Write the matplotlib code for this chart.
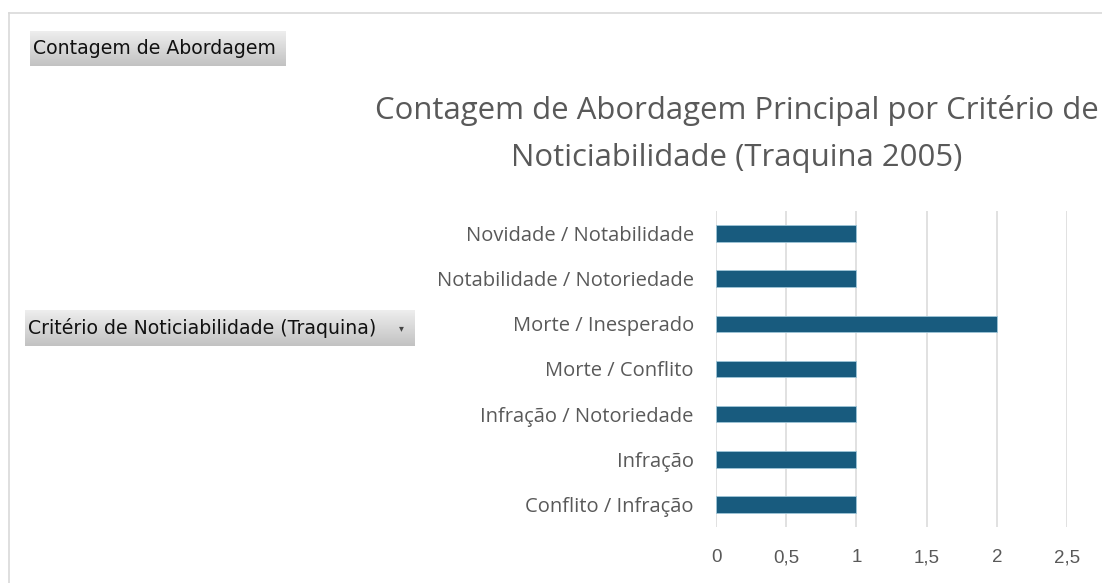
import numpy as np
import matplotlib
matplotlib.use("Agg")
import matplotlib.pyplot as plt
from matplotlib.lines import Line2D

categorias = ['Conflito / Infração', 'Infração', 'Infração / Notoriedade',
              'Morte / Conflito', 'Morte / Inesperado',
              'Notabilidade / Notoriedade', 'Novidade / Notabilidade']
contagens = [1, 1, 1, 1, 2, 1, 1]
xticks = [0, 0.5, 1, 1.5, 2, 2.5]
xtick_labels = ['0', '0,5', '1', '1,5', '2', '2,5']

W, H = 1102, 583
fig = plt.figure(figsize=(W / 100, H / 100), dpi=100)

# moldura do gráfico (cortada à direita e em baixo)
fig.add_artist(Line2D([9 / W, 1], [1 - 13 / H] * 2, color='#d9d9d9', lw=1.2))
fig.add_artist(Line2D([9 / W] * 2, [0, 1 - 13 / H], color='#d9d9d9', lw=1.2))


def botao(x0, y0, x1, y1, texto, seta=False):
    # botão de campo da tabela dinâmica, com degradê cinza
    bax = fig.add_axes([x0 / W, 1 - y1 / H, (x1 - x0) / W, (y1 - y0) / H])
    grad = np.linspace(0.93, 0.76, 64).reshape(-1, 1)
    bax.imshow(grad, aspect='auto', cmap='gray', vmin=0, vmax=1,
               extent=[0, 1, 0, 1])
    bax.set_axis_off()
    bax.text(3 / (x1 - x0), 0.5, texto, fontsize=13.6, color='#111111',
             family='DejaVu Sans', va='center', ha='left',
             transform=bax.transAxes)
    if seta:
        bax.text(0.965, 0.5, '▾', fontsize=7, color='#444444', va='center',
                 ha='center', transform=bax.transAxes)


botao(30, 31, 286, 66, 'Contagem de Abordagem')
botao(25, 310, 415, 346, 'Critério de Noticiabilidade (Traquina)', seta=True)

ax = fig.add_axes([716 / W, 1 - 527 / H, (1067 - 716) / W, (527 - 211) / H])
y = np.arange(len(categorias))
ax.barh(y, contagens, height=0.37, color='#185b7e', edgecolor='#9fc6d8',
        linewidth=0.6, zorder=3)
ax.set_xlim(0, 2.5)
ax.set_ylim(-0.5, len(categorias) - 0.5)
ax.set_xticks(xticks)
ax.set_xticklabels(xtick_labels, family='Liberation Sans', fontsize=13.5,
                   color='#595959')
ax.set_yticks(y)
ax.set_yticklabels(categorias, family='Open Sans', fontsize=14.5, color='#595959')
ax.tick_params(axis='both', length=0)
ax.tick_params(axis='y', pad=16)
ax.tick_params(axis='x', pad=16)
ax.grid(axis='x', color='#d9d9d9', lw=1.1, zorder=0)
for s in ax.spines.values():
    s.set_visible(False)

fig.text(737 / W, 1 - 110 / H, 'Contagem de Abordagem Principal por Critério de',
         family='Open Sans', fontsize=22.4, color='#595959', ha='center', va='center')
fig.text(737 / W, 1 - 158 / H, 'Noticiabilidade (Traquina 2005)',
         family='Open Sans', fontsize=22.4, color='#595959', ha='center', va='center')

fig.savefig('out.png', dpi=100, facecolor='white')
